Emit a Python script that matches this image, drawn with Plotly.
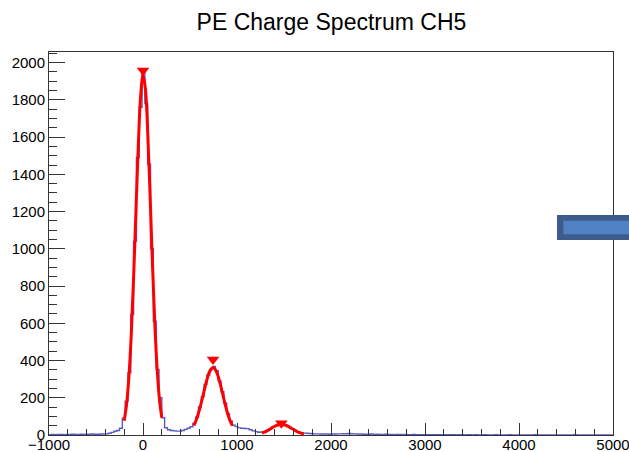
import numpy as np
import plotly.graph_objects as go

# ---- histogram: 200 bins of width 30 from -1000 to 5000 ----
x_min, bin_width = -1000, 30
counts_left_tail = [2, 3, 2, 3, 3, 2, 3, 3, 4, 3, 3, 4, 3, 4, 4, 5, 4, 4, 5, 5]
counts_peak1 = [6, 9, 14, 20, 24, 36, 90, 182, 334, 648, 1040, 1490, 1760, 1952, 1780,
                1455, 1000, 611, 352, 200, 93, 39, 28]
counts_peak2 = [24, 22, 21, 21, 24, 30, 36, 44, 62, 95, 150, 205, 272, 322, 352,
                368, 345, 290, 232, 172, 115, 75, 52, 45, 38, 36, 35, 34, 28, 22,
                18, 15, 16]
counts_peak3 = [18, 24, 33, 42, 50, 55, 58, 54, 50, 40, 33, 24, 18, 13, 10,
                9, 8, 7, 6, 6, 5, 5, 5, 4, 5, 5, 6, 6, 7, 7, 8, 7, 6, 5, 5, 4]
counts_right_tail = [4, 4, 5, 3, 4, 3, 3, 4, 3, 3, 2, 3, 3, 2, 3, 2, 2, 3, 2, 2,
                     2, 1, 2, 2, 1, 2, 1, 1, 2, 1, 1, 1, 0, 1, 1, 0, 1, 1,
                     0, 1, 0, 0, 1, 0, 0, 0, 1, 0, 0, 0, 0, 1, 0, 0, 0, 0, 0, 0,
                     0, 0, 1, 0, 0, 0, 0, 0, 0, 0, 0, 0, 0, 0, 0, 0, 1, 0, 0, 0,
                     0, 0, 0, 0, 0, 0, 0, 0, 0, 0]
counts = counts_left_tail + counts_peak1 + counts_peak2 + counts_peak3 + counts_right_tail

fit1_x = [-200, -175, -150, -125, -100, -75, -50, -25, 0, 25, 50, 75, 100, 125, 150, 175, 200]
fit1_y = [77, 163, 311, 538, 845, 1203, 1554, 1820, 1934, 1863, 1628, 1291, 928, 605, 358, 192, 93]
fit2_x = [540, 565, 590, 615, 640, 665, 690, 715, 745, 770, 795, 820, 845, 870, 895, 920, 950]
fit2_y = [50, 79, 117, 163, 215, 268, 314, 347, 362, 351, 322, 278, 226, 173, 125, 85, 50]
fit3_x = [1265, 1290, 1315, 1340, 1365, 1390, 1415, 1440, 1472, 1500, 1525, 1550, 1575,
          1600, 1625, 1650, 1675, 1700, 1712]
fit3_y = [10, 15, 21, 28, 36, 44, 50, 55, 57, 55, 51, 45, 37, 30, 22, 16, 11, 7, 6]

# ---- found peaks ----
peak_x = [0, 745, 1472]
peak_y = [1958, 405, 63]

x_range = [-1000, 5000]
y_range = [0, 2057]

edges = [x_min + bin_width * i for i in range(len(counts) + 1)]
step_x = edges
step_y = counts + [counts[-1]]

fig = go.Figure()
fig.add_trace(go.Scatter(x=step_x, y=step_y, mode="lines", line_shape="hv",
                         line=dict(color="rgb(90,90,195)", width=1.4),
                         hoverinfo="skip", showlegend=False))
for fx, fy in [(fit1_x, fit1_y), (fit2_x, fit2_y), (fit3_x, fit3_y)]:
    fig.add_trace(go.Scatter(x=fx, y=fy, mode="lines", line_shape="spline",
                             line=dict(color="red", width=3),
                             showlegend=False))
fig.add_trace(go.Scatter(x=peak_x, y=peak_y, mode="markers",
                         marker=dict(symbol="triangle-down", color="red", size=11,
                                     line=dict(width=0)),
                         showlegend=False))

# decorative box on the right (partially outside the frame)
fig.add_shape(type="rect", xref="paper", yref="paper", x0=0.9007, x1=1.06, y0=0.5091, y1=0.5744,
              fillcolor="#3d5c8c", line=dict(width=0), layer="above")
fig.add_shape(type="rect", xref="paper", yref="paper", x0=0.9119, x1=1.06, y0=0.524, y1=0.5595,
              fillcolor="#4f81c4", line=dict(width=0), layer="above")

font_family = "Liberation Sans, Arial, Helvetica, sans-serif"
fig.update_layout(
    width=629, height=452, autosize=False,
    margin=dict(l=49, r=16, t=52, b=17, autoexpand=False),
    paper_bgcolor="white", plot_bgcolor="white",
    font=dict(family=font_family, size=15, color="black"),
    title=dict(text="PE Charge Spectrum CH5", x=0.527, xanchor="center",
               y=0.952, yanchor="middle",
               font=dict(family=font_family, size=23, color="black")),
    xaxis=dict(range=x_range, showgrid=False, zeroline=False, automargin=False,
               showline=True, mirror=True, linecolor="#333", linewidth=1,
               ticks="inside", ticklen=12, tickcolor="#333", dtick=1000, tick0=0,
               minor=dict(ticks="inside", ticklen=6, dtick=200, tickcolor="#333", showgrid=False),
               ticklabeloverflow="allow", ticklabelstandoff=-4,
               tickfont=dict(size=15)),
    yaxis=dict(range=y_range, showgrid=False, zeroline=False, automargin=False,
               showline=True, mirror=True, linecolor="#333", linewidth=1,
               ticks="inside", ticklen=16, tickcolor="#333", dtick=200, tick0=0,
               minor=dict(ticks="inside", ticklen=8, dtick=50, tickcolor="#333", showgrid=False),
               ticklabeloverflow="allow",
               tickfont=dict(size=15)),
)

fig.write_html("out.html")
